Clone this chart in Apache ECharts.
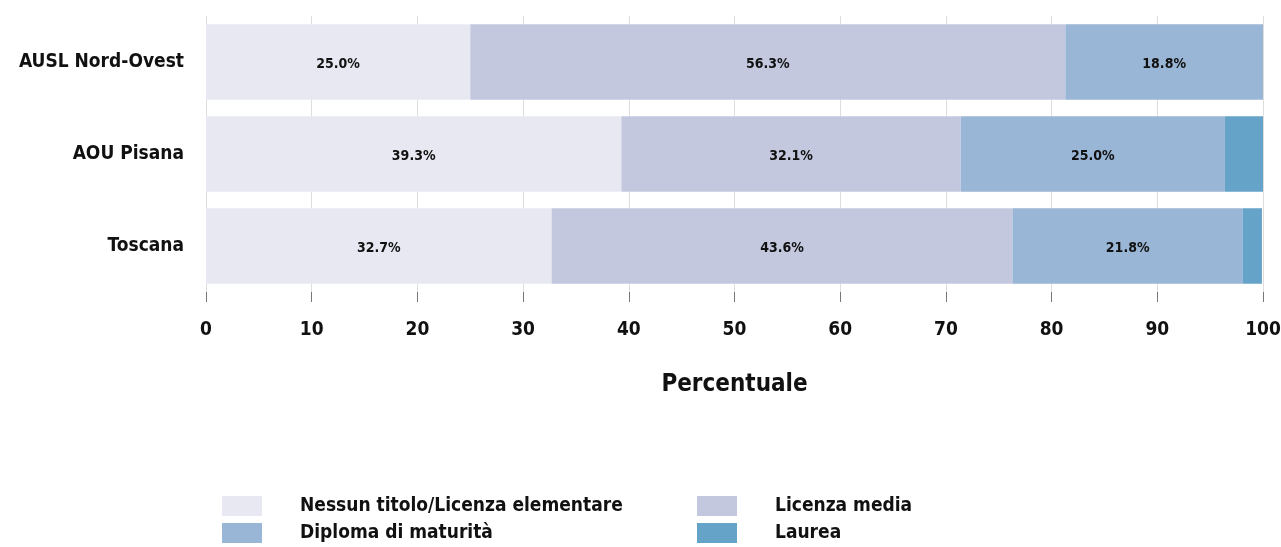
<!DOCTYPE html>
<html><head><meta charset="utf-8">
<script src="https://cdn.jsdelivr.net/npm/echarts@6/dist/echarts.min.js"></script>
<style>html,body{margin:0;padding:0;background:#fff}#c{width:1281px;height:547px}</style>
</head><body><div id="c"></div>
<script>
const categories = ['AUSL Nord-Ovest', 'AOU Pisana', 'Toscana'];
const seriesNames = ['Nessun titolo/Licenza elementare', 'Licenza media', 'Diploma di maturità', 'Laurea'];
const nessun = [25.0, 39.3, 32.7];
const media = [56.3, 32.1, 43.6];
const diploma = [18.8, 25.0, 21.8];
const laurea = [0, 3.6, 1.8];
const colors = ['#E8E8F2', '#C3C8DE', '#9AB6D6', '#66A3C8'];
const FONT = "'Liberation Sans Narrow', 'DejaVu Sans Condensed', sans-serif";
const values = [nessun, media, diploma, laurea];
const legendPos = [[222, 496], [697, 496], [222, 523], [697, 523]];
const chart = echarts.init(document.getElementById('c'));
chart.setOption({
  animation: false,
  textStyle: {fontFamily: FONT},
  grid: {left: 206, right: 18, top: 16, height: 276, containLabel: false, outerBoundsMode: 'none'},
  xAxis: {
    type: 'value', min: 0, max: 100, interval: 10,
    axisLine: {show: false},
    axisTick: {show: true, length: 10, lineStyle: {color: '#777'}},
    splitLine: {show: true, lineStyle: {color: '#dedede', width: 1}},
    axisLabel: {fontSize: 19, fontWeight: 'bold', color: '#111', margin: 29, fontFamily: FONT},
    name: 'Percentuale', nameLocation: 'middle', nameGap: 81,
    nameTextStyle: {fontSize: 24, fontWeight: 'bold', color: '#111', fontFamily: FONT}
  },
  yAxis: {
    type: 'category', data: categories, inverse: true,
    axisLine: {show: false}, axisTick: {show: false},
    axisLabel: {fontSize: 19, fontWeight: 'bold', color: '#111', margin: 22, fontFamily: FONT}
  },
  legend: seriesNames.map((n, i) => ({
    left: legendPos[i][0], top: legendPos[i][1], itemWidth: 40, itemHeight: 20, icon: 'rect',
    padding: 0, itemGap: 0, selectedMode: false,
    data: [n],
    textStyle: {fontSize: 19, fontWeight: 'bold', color: '#111', fontFamily: FONT, padding: [2, 0, 0, 33]}
  })),
  series: seriesNames.map((n, i) => ({
    name: n, type: 'bar', stack: 'total', barCategoryGap: '18%',
    data: values[i],
    itemStyle: {color: colors[i]},
    label: {show: true, position: 'inside', fontSize: 14, fontWeight: 'bold', color: '#111', fontFamily: FONT,
      offset: [0, 2],
      formatter: p => p.value >= 5 ? p.value.toFixed(1) + '%' : ''}
  }))
});
</script></body></html>
